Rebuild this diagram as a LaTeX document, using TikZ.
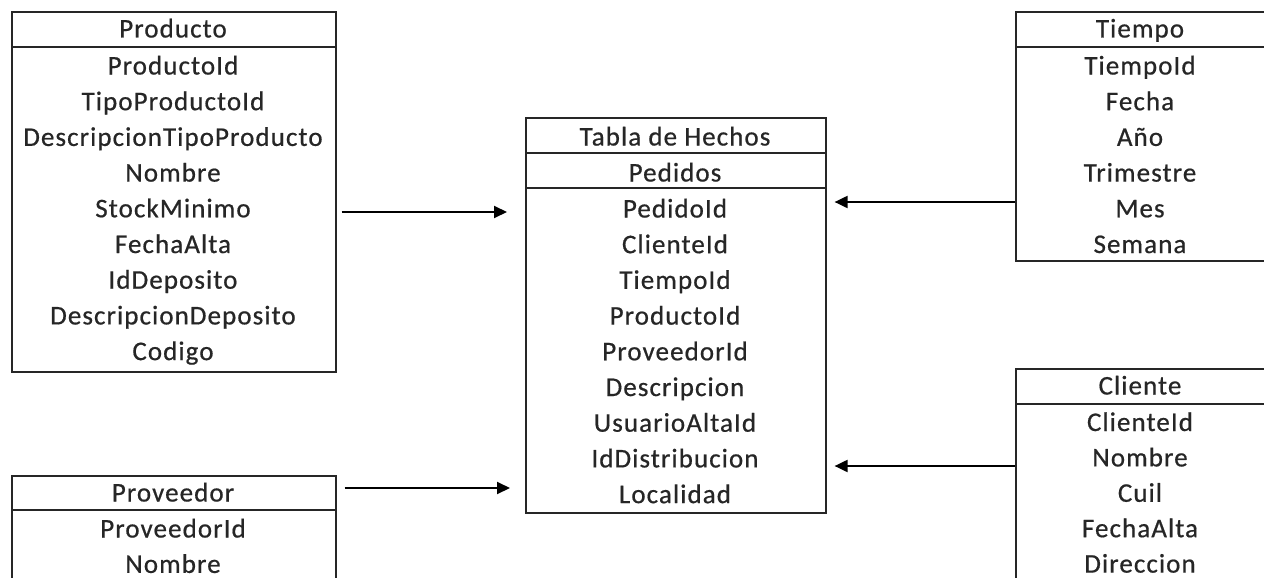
\documentclass[tikz,border=0pt]{standalone}
\usepackage{fontspec}
\setmainfont[LetterSpace=4,FakeBold=0.6]{Carlito}
\usetikzlibrary{arrows.meta}
\begin{document}
\begin{tikzpicture}[x=1pt,y=-1pt,
  box/.style={draw=black!85, line width=1.6pt, inner sep=0pt},
  sep/.style={draw=black!85, line width=1.6pt},
  fld/.style={font=\fontsize{27}{29}\selectfont, text=black!85, inner sep=0pt, anchor=base},
  arr/.style={draw=black, line width=2pt, -{Triangle[length=13pt,width=12pt]}}]
\useasboundingbox (0,0) rectangle (1264,578);
\clip (0,0) rectangle (1264,578);
% Producto
\node[box, anchor=north west, minimum width=324pt, minimum height=360pt] (prod) at (11,11) {};
\draw[sep] (prod.west |- 0,47) -- (prod.east |- 0,47);
\node[fld] (prodT) at (173,37.5) {Producto};
\foreach \t [count=\i from 0] in {ProductoId,TipoProductoId,DescripcionTipoProducto,Nombre,StockMinimo,FechaAlta,IdDeposito,DescripcionDeposito,Codigo}
  \node[fld] (prod\i) at (173,74.5+\i*35.7) {\t};
% Proveedor
\node[box, anchor=north west, minimum width=324pt, minimum height=140pt] (prov) at (11,475) {};
\draw[sep] (prov.west |- 0,510) -- (prov.east |- 0,510);
\node[fld] (provT) at (173,501.5) {Proveedor};
\foreach \t [count=\i from 0] in {ProveedorId,Nombre}
  \node[fld] (prov\i) at (173,537.5+\i*35.4) {\t};
% Tabla de Hechos
\node[box, anchor=north west, minimum width=300pt, minimum height=395pt] (hech) at (525,117) {};
\draw[sep] (hech.west |- 0,153) -- (hech.east |- 0,153);
\draw[sep] (hech.west |- 0,188) -- (hech.east |- 0,188);
\node[fld] (hechT) at (675,145.5) {Tabla de Hechos};
\node[fld] (hechP) at (675,181.5) {Pedidos};
\foreach \t [count=\i from 0] in {PedidoId,ClienteId,TiempoId,ProductoId,ProveedorId,Descripcion,UsuarioAltaId,IdDistribucion,Localidad}
  \node[fld] (hech\i) at (675,217.5+\i*35.7) {\t};
% Tiempo
\node[box, anchor=north west, minimum width=252pt, minimum height=249pt] (tiem) at (1015,11) {};
\draw[sep] (tiem.west |- 0,47) -- (tiem.east |- 0,47);
\node[fld] (tiemT) at (1140,37.5) {Tiempo};
\foreach \t [count=\i from 0] in {TiempoId,Fecha,Año,Trimestre,Mes,Semana}
  \node[fld] (tiem\i) at (1140,74.5+\i*35.7) {\t};
% Cliente
\node[box, anchor=north west, minimum width=252pt, minimum height=240pt] (clie) at (1015,368) {};
\draw[sep] (clie.west |- 0,404) -- (clie.east |- 0,404);
\node[fld] (clieT) at (1140,394.5) {Cliente};
\foreach \t [count=\i from 0] in {ClienteId,Nombre,Cuil,FechaAlta,Direccion}
  \node[fld] (clie\i) at (1140,431+\i*35.4) {\t};
% connectors
\draw[arr] ([xshift=5pt]prod.east |- 0,212) -- ([xshift=-18pt]hech.west |- 0,212);
\draw[arr] ([xshift=8pt]prov.east |- 0,488) -- ([xshift=-15pt]hech.west |- 0,488);
\draw[arr] (tiem.west |- 0,202) -- ([xshift=8pt]hech.east |- 0,202);
\draw[arr] (clie.west |- 0,466) -- ([xshift=8pt]hech.east |- 0,466);
\end{tikzpicture}
\end{document}
